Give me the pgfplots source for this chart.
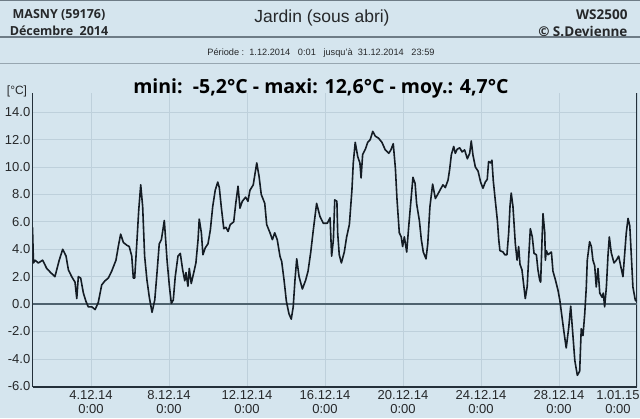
\documentclass[border=0pt]{standalone}
\usepackage{fontspec}
\setmainfont{Liberation Sans}
\newfontfamily\hdfont{Open Sans}
\usepackage{pgfplots}
\pgfplotsset{compat=1.18}
\definecolor{bg}{RGB}{213,229,238}
\definecolor{gridc}{RGB}{190,208,219}
\definecolor{curve}{RGB}{20,28,36}
\definecolor{axisc}{RGB}{36,48,58}
\definecolor{zeroc}{RGB}{78,98,110}
\definecolor{txt}{RGB}{38,40,42}
\definecolor{sep}{RGB}{110,124,134}

\begin{document}
\begin{tikzpicture}
\useasboundingbox (0pt,0pt) rectangle (640pt,418pt);
\fill[bg] (0pt,0pt) rectangle (640pt,418pt);
% header
\fill[sep] (0pt,416.5pt) rectangle (640pt,418pt);
\draw[sep, line width=1.4pt] (0pt,381pt) -- (640pt,381pt);
\draw[sep!60!bg, line width=0.8pt] (0pt,355pt) -- (640pt,355pt);
\node[font=\hdfont\bfseries\fontsize{12.5}{17}\selectfont, text=txt, align=center] at (59pt,395pt) {MASNY (59176)\\Décembre~~2014};
\node[font=\hdfont\bfseries\fontsize{13.5}{17}\selectfont, text=txt, align=right, anchor=east] at (631pt,395pt) {WS2500\\\textcopyright\ S.Devienne};
\node[font=\fontsize{17.5}{19}\selectfont, text=txt] at (322pt,400pt) {Jardin (sous abri)};
\node[font=\fontsize{9.2}{11}\selectfont, text=txt] at (321pt,365pt) {Période :\ \ 1.12.2014\ \ \ 0:01\ \ \ jusqu'à\ \ 31.12.2014\ \ \ 23:59};
\node[font=\hdfont\bfseries\fontsize{19.5}{22}\selectfont, text=black] at (321pt,330pt) {mini:\ \ -5,2°C - maxi: 12,6°C - moy.: 4,7°C};
\node[font=\fontsize{12}{14}\selectfont, text=txt] at (17pt,327pt) {[°C]};

\begin{axis}[
  at={(32.5pt,31pt)}, anchor=south west,
  scale only axis, width=604.5pt, height=294pt,
  xmin=0, xmax=31, ymin=-6.05, ymax=15.4,
  axis x line*=bottom, axis y line*=box,
  axis line style={axisc, line width=1.3pt},
  grid=major,
  major grid style={gridc, line width=0.7pt},
  major tick length=0pt,
  xtick={3,7,11,15,19,23,27},
  xticklabels={{4.12.14\\0:00},{8.12.14\\0:00},{12.12.14\\0:00},{16.12.14\\0:00},{20.12.14\\0:00},{24.12.14\\0:00},{28.12.14\\0:00}},
  extra x ticks={31},
  extra x tick labels={{1.01.15\\0:00}},
  extra x tick style={xticklabel style={xshift=-19pt}},
  xticklabel style={align=center, font=\fontsize{13}{14.5}\selectfont, text=txt, inner sep=3pt},
  ytick={-6,-4,...,14},
  yticklabel style={font=\fontsize{13}{15}\selectfont, text=txt, inner sep=2pt},
  /pgf/number format/fixed,
  /pgf/number format/fixed zerofill,
  /pgf/number format/precision=1,
  /pgf/number format/assume math mode=true,
]
\draw[zeroc, line width=1.2pt] (axis cs:0,0) -- (axis cs:31,0);
\addplot[curve, line width=1.6pt, line join=round] coordinates {
(0.00,5.6) (0.05,3.0) (0.13,3.2) (0.30,3.0) (0.52,3.2) (0.73,2.6) (0.93,2.3)
(1.15,2.0) (1.37,3.2) (1.55,4.0) (1.72,3.5) (1.84,2.5) (2.01,2.0) (2.18,1.6)
(2.27,0.4) (2.35,2.0) (2.47,1.9) (2.61,0.8) (2.74,0.2) (2.86,-0.2) (3.04,-0.2)
(3.21,-0.4) (3.37,0.1) (3.55,1.4) (3.72,1.7) (3.89,1.9) (4.06,2.4) (4.28,3.2)
(4.40,4.2) (4.52,5.1) (4.66,4.5) (4.83,4.3) (4.96,4.2) (5.09,3.5) (5.17,1.9)
(5.24,1.9) (5.36,4.7) (5.45,6.9) (5.55,8.7) (5.65,7.1) (5.75,3.5) (5.87,1.75)
(5.99,0.5) (6.13,-0.6) (6.27,0.3) (6.38,2.2) (6.50,4.4) (6.61,4.7) (6.76,6.1)
(6.90,3.2) (7.02,1.3) (7.12,0.05) (7.22,0.3) (7.32,2.0) (7.46,3.5) (7.58,3.7)
(7.70,2.5) (7.81,1.7) (7.87,2.3) (7.97,1.3) (8.04,2.6) (8.14,1.5) (8.27,2.3)
(8.38,3.0) (8.49,4.7) (8.55,6.2) (8.66,5.2) (8.74,3.6) (8.86,4.1) (9.00,4.4)
(9.12,5.4) (9.24,7.1) (9.37,8.3) (9.50,8.9) (9.58,8.5) (9.68,7.1) (9.81,5.5)
(9.92,5.6) (10.03,5.3) (10.14,5.8) (10.32,6.0) (10.42,7.3) (10.54,8.6) (10.64,7.0)
(10.76,7.5) (10.93,7.8) (11.05,7.5) (11.15,8.3) (11.32,8.7) (11.50,10.3) (11.62,9.3)
(11.73,8.0) (11.91,7.35) (12.01,5.8) (12.18,5.2) (12.30,4.7) (12.42,5.2) (12.55,4.7)
(12.69,3.5) (12.78,3.1) (12.90,1.75) (13.02,0.2) (13.15,-0.7) (13.27,-1.1) (13.37,-0.2)
(13.46,1.75) (13.55,3.3) (13.67,2.0) (13.84,1.1) (14.01,1.75) (14.13,2.4) (14.27,3.8)
(14.40,5.4) (14.57,7.35) (14.74,6.4) (14.91,5.9) (15.12,5.9) (15.26,6.3) (15.34,3.5)
(15.43,4.7) (15.50,7.6) (15.61,7.5) (15.65,5.2) (15.73,3.6) (15.84,3.0) (15.99,3.8)
(16.11,4.9) (16.25,5.8) (16.38,8.3) (16.45,10.3) (16.55,11.8) (16.68,10.75) (16.79,10.3)
(16.85,9.2) (16.93,10.9) (17.07,11.3) (17.19,11.8) (17.32,12.0) (17.45,12.6) (17.58,12.25)
(17.75,12.1) (17.92,11.8) (18.09,11.25) (18.27,11.0) (18.38,11.25) (18.50,11.7) (18.61,9.9)
(18.69,7.7) (18.81,5.2) (18.91,4.9) (18.98,4.2) (19.07,4.9) (19.19,3.8) (19.29,5.6)
(19.41,7.6) (19.51,9.25) (19.62,8.8) (19.70,7.3) (19.84,6.1) (19.94,4.7) (20.04,3.8)
(20.18,3.3) (20.27,4.4) (20.38,7.1) (20.52,8.75) (20.66,7.7) (20.78,8.0) (20.93,8.4)
(21.05,8.7) (21.17,8.5) (21.31,9.05) (21.39,9.8) (21.48,10.9) (21.60,11.5) (21.68,11.0)
(21.78,11.3) (21.91,11.4) (22.03,11.1) (22.16,11.25) (22.30,10.6) (22.42,11.0) (22.50,11.9)
(22.59,10.85) (22.71,10.0) (22.85,9.7) (22.98,8.9) (23.10,8.45) (23.22,8.9) (23.32,9.1)
(23.39,10.4) (23.50,10.3) (23.56,10.5) (23.63,9.0) (23.73,7.6) (23.84,6.1) (23.91,4.7)
(23.97,3.9) (24.13,3.8) (24.22,3.6) (24.33,3.6) (24.42,5.2) (24.49,7.2) (24.55,8.1)
(24.64,7.1) (24.76,4.4) (24.85,3.2) (24.93,4.2) (25.00,2.9) (25.10,2.5) (25.21,1.15)
(25.27,0.4) (25.37,1.3) (25.45,3.5) (25.53,5.5) (25.63,4.9) (25.72,3.7) (25.84,3.6)
(25.92,2.5) (26.01,1.75) (26.06,1.6) (26.13,4.7) (26.18,6.6) (26.27,5.2) (26.30,3.2)
(26.35,3.9) (26.44,3.6) (26.52,3.7) (26.61,3.8) (26.69,2.4) (26.81,1.8) (26.95,1.0)
(27.04,0.3) (27.15,-0.9) (27.26,-2.1) (27.37,-3.2) (27.50,-1.7) (27.60,-0.15) (27.68,-1.65)
(27.81,-4.1) (27.94,-5.2) (28.06,-4.9) (28.14,-1.8) (28.23,-2.3) (28.32,-0.7) (28.40,1.25)
(28.45,3.2) (28.57,4.55) (28.66,4.2) (28.74,3.2) (28.83,2.8) (28.91,1.25) (29.00,2.6)
(29.09,0.8) (29.21,0.5) (29.27,0.8) (29.34,-0.2) (29.43,1.25) (29.51,3.5) (29.58,4.9)
(29.68,3.75) (29.82,3.0) (29.94,3.2) (30.06,3.5) (30.16,2.8) (30.28,2.0) (30.37,3.7)
(30.45,5.2) (30.54,6.25) (30.63,5.7) (30.71,3.5) (30.79,1.25) (30.91,0.3) (30.98,0.2)
};
\end{axis}
\end{tikzpicture}
\end{document}
